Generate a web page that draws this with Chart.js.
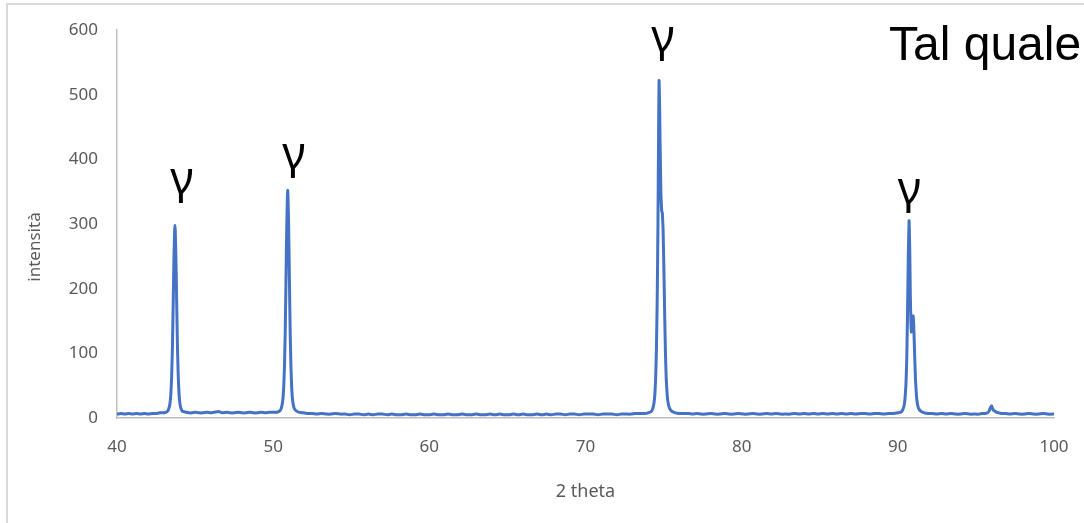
<!DOCTYPE html>
<html>
<head>
<meta charset="utf-8">
<script src="https://cdn.jsdelivr.net/npm/chart.js@4/dist/chart.umd.min.js"></script>
<style>
  html, body { margin: 0; padding: 0; background: #fff; overflow: hidden; }
  .frame { position: absolute; left: 6px; top: 3px; width: 1200px; height: 600px; border: 2px solid #d9d9d9; }
  #xrd { position: absolute; left: 0; top: 0; }
</style>
</head>
<body>
<div class="frame"></div>
<canvas id="xrd" width="1084" height="523"></canvas>
<script>
// diffraction scan: 2 theta (deg) and counts
const twoTheta = [
  40.0, 40.25, 40.5, 40.75, 41.0, 41.25, 41.5, 41.75, 42.0, 42.25, 42.5, 42.75,
  43.01, 43.21, 43.31, 43.39, 43.45, 43.5, 43.55, 43.6, 43.65, 43.69, 43.71, 43.73, 43.77, 43.82, 43.87, 43.92, 43.97, 44.03, 44.11, 44.21, 44.41,
  44.6, 44.8, 45.0, 45.25, 45.5, 45.75, 46.0, 46.25, 46.5, 46.75, 47.0, 47.25, 47.5, 47.75, 48.0, 48.25, 48.5, 48.75, 49.0, 49.25, 49.5, 49.75, 50.0,
  50.23, 50.43, 50.53, 50.61, 50.67, 50.72, 50.77, 50.82, 50.87, 50.91, 50.93, 50.95, 50.99, 51.04, 51.09, 51.14, 51.19, 51.25, 51.33, 51.43, 51.63,
  51.9, 52.2, 52.5, 52.8, 53.1, 53.4, 53.7, 54.0, 54.3, 54.6, 54.9, 55.2, 55.5, 55.8, 56.1, 56.4, 56.7, 57.0, 57.3, 57.6, 57.9, 58.2, 58.5, 58.8,
  59.1, 59.4, 59.7, 60.0, 60.3, 60.6, 60.9, 61.2, 61.5, 61.8, 62.1, 62.4, 62.7, 63.0, 63.3, 63.6, 63.9, 64.2, 64.5, 64.8, 65.1, 65.4, 65.7, 66.0,
  66.3, 66.6, 66.9, 67.2, 67.5, 67.8, 68.1, 68.4, 68.7, 69.0, 69.3, 69.6, 69.9, 70.2, 70.5, 70.8, 71.1, 71.4, 71.7, 72.0, 72.3, 72.6, 72.9, 73.2,
  73.5, 73.8,
  74.0, 74.2, 74.3, 74.38, 74.44, 74.49, 74.54, 74.59, 74.64, 74.68, 74.71, 74.74, 74.78, 74.83, 74.88, 74.92, 74.97, 75.02, 75.07, 75.12, 75.17,
  75.23, 75.3, 75.4, 75.55, 75.75,
  76.0, 76.3, 76.6, 76.9, 77.1, 77.4, 77.7, 78.0, 78.3, 78.6, 78.9, 79.2, 79.5, 79.8, 80.1, 80.4, 80.7, 81.0, 81.3, 81.6, 81.9, 82.2, 82.5, 82.8,
  83.1, 83.4, 83.7, 84.0, 84.3, 84.6, 84.9, 85.2, 85.5, 85.8, 86.1, 86.4, 86.7, 87.0, 87.3, 87.6, 87.9, 88.2, 88.5, 88.8, 89.1, 89.4, 89.7,
  90.0, 90.2, 90.3, 90.4, 90.46, 90.52, 90.57, 90.62, 90.67, 90.72, 90.76, 90.8, 90.84, 90.87, 90.92, 90.98, 91.03, 91.08, 91.13, 91.19,
  91.26, 91.35, 91.5, 91.7,
  91.95, 92.2, 92.5, 92.8, 93.1, 93.4, 93.7, 94.0, 94.3, 94.6, 94.9, 95.2, 95.4,
  95.6, 95.75, 95.85, 95.93, 96.0, 96.06, 96.12, 96.2, 96.3, 96.45, 96.6,
  96.9, 97.2, 97.5, 97.8, 98.1, 98.4, 98.7, 99.0, 99.3, 99.6, 100.0
];
const intensity = [
  6, 7, 6, 7, 6, 7, 6, 7, 6, 7, 7, 8,
  8, 10, 14, 22, 38, 65, 110, 180, 250, 290, 298, 290, 252, 182, 112, 66, 38, 22, 14, 10, 9,
  8, 8, 9, 8, 8, 9, 8, 9, 10, 8, 9, 8, 8, 9, 8, 8, 9, 8, 8, 9, 8, 9, 9,
  9, 11, 16, 26, 45, 77, 130, 212, 296, 342, 352, 343, 298, 215, 132, 78, 45, 26, 16, 12, 9,
  8, 7, 7, 6, 7, 6, 6, 7, 6, 6, 5, 6, 6, 5, 6, 5, 6, 6, 5, 6, 5, 5, 6, 5,
  5, 6, 5, 5, 6, 5, 5, 6, 5, 5, 6, 5, 5, 6, 5, 5, 6, 5, 6, 5, 5, 6, 5, 6,
  5, 5, 6, 5, 6, 5, 6, 6, 5, 6, 6, 5, 6, 6, 6, 5, 6, 6, 6, 5, 6, 6, 6, 7,
  7, 7,
  8, 10, 14, 22, 36, 60, 105, 180, 300, 440, 522, 490, 420, 345, 320, 317, 290, 230, 160, 100, 60,
  36, 22, 14, 10, 8,
  7, 7, 7, 6, 7, 6, 6, 7, 6, 6, 7, 6, 6, 7, 6, 6, 7, 6, 6, 7, 6, 7, 6, 6,
  6, 7, 6, 7, 6, 7, 6, 7, 6, 7, 6, 7, 6, 7, 6, 7, 7, 6, 7, 7, 6, 7, 7,
  8, 9, 12, 19, 30, 52, 90, 160, 250, 305, 265, 190, 145, 133, 148, 158, 135, 95, 60, 35,
  21, 14, 10, 8,
  7, 7, 6, 7, 6, 7, 6, 6, 7, 6, 6, 6, 7,
  7, 8, 11, 16, 19, 15, 12, 11, 9, 8, 7,
  7, 6, 7, 6, 6, 7, 6, 6, 7, 6, 6
];

const xTicks = [40, 50, 60, 70, 80, 90, 100];
const yTicks = [0, 100, 200, 300, 400, 500, 600];

// phase labels above the reflections (x in deg, y in counts at text baseline)
const phaseLabels = [
  { text: 'γ', x: 44.16, y: 346 },
  { text: 'γ', x: 51.33, y: 385 },
  { text: 'γ', x: 74.96, y: 566 },
  { text: 'γ', x: 90.74, y: 331 }
];
const sampleName = 'Tal quale';
const xTitle = '2 theta';
const yTitle = 'intensità';

const axisGrey = '#595959';
const lineBlue = '#4472C4';

const annotate = {
  id: 'annotate',
  afterDatasetsDraw(chart) {
    const ctx = chart.ctx;
    const xs = chart.scales.x, ys = chart.scales.y;
    ctx.save();
    ctx.fillStyle = '#000';
    ctx.textAlign = 'center';
    ctx.textBaseline = 'alphabetic';
    ctx.font = '45px "Noto Sans"';
    phaseLabels.forEach(l => {
      ctx.fillText(l.text, xs.getPixelForValue(l.x), ys.getPixelForValue(l.y));
    });
    ctx.textAlign = 'left';
    ctx.font = '48px "Liberation Sans"';
    ctx.fillText(sampleName, 889, 60);
    // y axis title
    ctx.fillStyle = axisGrey;
    ctx.font = '17px "Noto Sans"';
    ctx.textAlign = 'center';
    ctx.textBaseline = 'middle';
    ctx.translate(35, 247);
    ctx.rotate(-Math.PI / 2);
    ctx.fillText(yTitle, 0, 0);
    ctx.restore();
  }
};

new Chart(document.getElementById('xrd'), {
  type: 'line',
  data: {
    datasets: [{
      label: 'XRD',
      data: twoTheta.map((t, i) => ({ x: t, y: intensity[i] })),
      borderColor: lineBlue,
      borderWidth: 3,
      borderJoinStyle: 'round',
      borderCapStyle: 'round',
      pointRadius: 0,
      // small tension keeps the segments on the regular (non fast-path) renderer
      tension: 0.1,
      fill: false
    }]
  },
  options: {
    responsive: false,
    animation: false,
    devicePixelRatio: 1,
    layout: { padding: { top: 30, right: 30, left: 0, bottom: 0 } },
    plugins: { legend: { display: false }, tooltip: { enabled: false } },
    scales: {
      x: {
        type: 'linear',
        min: 40,
        max: 100,
        afterFit(scale) {
          scale.height = 105;
          scale.paddingLeft = 0;
          scale.paddingRight = 0;
        },
        afterBuildTicks(scale) { scale.ticks = xTicks.map(v => ({ value: v })); },
        grid: { display: false, drawTicks: false },
        border: { display: true, color: '#bfbfbf', width: 1.5 },
        ticks: { color: axisGrey, font: { family: 'Noto Sans', size: 17 }, padding: 19, maxRotation: 0 },
        title: { display: true, text: xTitle, color: axisGrey, font: { family: 'Noto Sans', size: 18 }, padding: { bottom: 20 } }
      },
      y: {
        min: 0,
        max: 600,
        afterFit(scale) { scale.width = 117; },
        afterBuildTicks(scale) { scale.ticks = yTicks.map(v => ({ value: v })); },
        grid: { display: false, drawTicks: false },
        border: { display: true, color: '#bfbfbf', width: 1.5 },
        ticks: { color: axisGrey, font: { family: 'Noto Sans', size: 17 }, padding: 19 }
      }
    }
  },
  plugins: [annotate]
});
</script>
</body>
</html>
